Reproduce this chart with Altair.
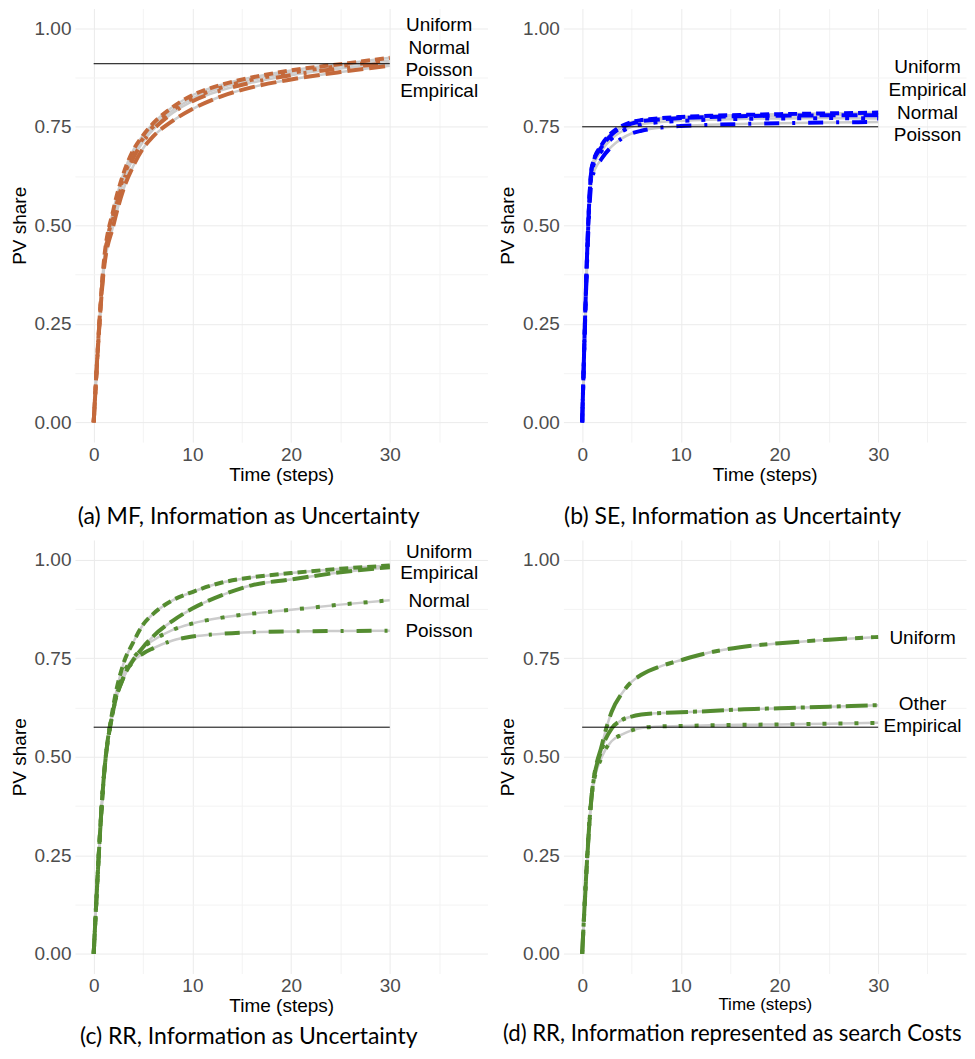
import altair as alt
import pandas as pd

# ---------------- data ----------------
time = [0, 1, 2, 3, 4, 5, 6, 8, 10, 13, 16, 20, 25, 30]

a_uniform   = [0, 0.40, 0.54, 0.63, 0.69, 0.728, 0.758, 0.800, 0.830, 0.857, 0.875, 0.893, 0.909, 0.925]
a_normal    = [0, 0.39, 0.53, 0.62, 0.68, 0.720, 0.750, 0.792, 0.822, 0.850, 0.869, 0.887, 0.904, 0.918]
a_poisson   = [0, 0.39, 0.52, 0.61, 0.67, 0.712, 0.742, 0.785, 0.815, 0.843, 0.862, 0.881, 0.898, 0.912]
a_empirical = [0, 0.38, 0.50, 0.59, 0.65, 0.695, 0.725, 0.765, 0.795, 0.828, 0.850, 0.870, 0.889, 0.905]

b_uniform   = [0, 0.65, 0.705, 0.735, 0.752, 0.762, 0.767, 0.772, 0.775, 0.778, 0.780, 0.782, 0.784, 0.786]
b_empirical = [0, 0.65, 0.700, 0.730, 0.748, 0.758, 0.764, 0.769, 0.772, 0.775, 0.777, 0.778, 0.779, 0.779]
b_normal    = [0, 0.64, 0.690, 0.720, 0.738, 0.750, 0.756, 0.762, 0.765, 0.768, 0.770, 0.771, 0.772, 0.771]
b_poisson   = [0, 0.62, 0.670, 0.700, 0.720, 0.733, 0.740, 0.748, 0.752, 0.755, 0.757, 0.759, 0.761, 0.762]

c_uniform   = [0, 0.44, 0.63, 0.735, 0.790, 0.835, 0.862, 0.897, 0.918, 0.942, 0.955, 0.966, 0.977, 0.985]
c_empirical = [0, 0.44, 0.62, 0.700, 0.745, 0.778, 0.805, 0.845, 0.876, 0.910, 0.935, 0.950, 0.968, 0.981]
c_normal    = [0, 0.44, 0.62, 0.710, 0.750, 0.777, 0.795, 0.822, 0.838, 0.853, 0.863, 0.873, 0.886, 0.897]
c_poisson   = [0, 0.44, 0.62, 0.700, 0.742, 0.762, 0.775, 0.795, 0.805, 0.812, 0.816, 0.818, 0.819, 0.820]

d_uniform   = [0, 0.41, 0.53, 0.615, 0.660, 0.690, 0.708, 0.730, 0.745, 0.765, 0.778, 0.788, 0.797, 0.804]
d_other     = [0, 0.41, 0.52, 0.572, 0.593, 0.602, 0.607, 0.611, 0.613, 0.616, 0.620, 0.623, 0.627, 0.631]
d_empirical = [0, 0.41, 0.50, 0.540, 0.556, 0.567, 0.573, 0.577, 0.578, 0.580, 0.581, 0.582, 0.584, 0.586]

hline_values = {"a": 0.91, "b": 0.75, "c": 0.575, "d": 0.575}

a_labels   = ["Uniform", "Normal", "Poisson", "Empirical"]
a_label_y  = [1.009, 0.951, 0.895, 0.842]
b_labels   = ["Uniform", "Empirical", "Normal", "Poisson"]
b_label_y  = [0.901, 0.844, 0.785, 0.728]
c_labels   = ["Uniform", "Empirical", "Normal", "Poisson"]
c_label_y  = [1.020, 0.965, 0.896, 0.820]
d_labels   = ["Uniform", "Other", "Empirical"]
d_label_y  = [0.802, 0.633, 0.579]
label_x    = {"a": 35, "b": 35, "c": 35, "d": 34.5}

captions = {
    "a": "(a) MF, Information as Uncertainty",
    "b": "(b) SE, Information as Uncertainty",
    "c": "(c) RR, Information as Uncertainty",
    "d": "(d) RR, Information represented as search Costs",
}

colors = {"a": "#c4693b", "b": "#0000ff", "c": "#548c30", "d": "#548c30"}

dash_patterns = {
    "Uniform": [9, 5],
    "Empirical": [16, 6],
    "Normal": [4, 12],
    "Poisson": [15, 13, 3, 13],
}
d_dash_patterns = {
    "Uniform": [24, 8, 8, 8],
    "Other": [22, 5, 4, 5],
    "Empirical": [4, 12],
}

FONT = "Liberation Sans"


def long_df(series):
    rows = []
    for name, vals in series.items():
        for t, v in zip(time, vals):
            rows.append({"t": t, "v": v, "series": name})
    return pd.DataFrame(rows)


def panel(key, series, labels, label_y, dashes, xmax, width, height, cap_offset,
          cap_size=23, xtitle_size=19):
    df = long_df(series)
    xscale = alt.Scale(domain=[-1.9, xmax], nice=False, zero=False)
    yscale = alt.Scale(domain=[-0.05, 1.05], nice=False, zero=False)

    xaxis = alt.Axis(
        values=[0, 5, 10, 15, 20, 25, 30, 35],
        labelExpr="datum.value % 10 === 0 ? datum.label : ''",
        labelOverlap=False,
        title="Time (steps)",
        titleFontSize=xtitle_size,
        ticks=False, domain=False,
        labelPadding=3, titlePadding=1,
        gridColor={"condition": {"test": "datum.value % 10 === 0", "value": "#ebebeb"}, "value": "#f3f3f3"},
    )
    yaxis = alt.Axis(
        values=[0, 0.125, 0.25, 0.375, 0.5, 0.625, 0.75, 0.875, 1.0],
        format=".2f",
        labelExpr="(datum.value * 8) % 2 === 0 ? datum.label : ''",
        labelOverlap=False,
        title="PV share",
        ticks=False, domain=False,
        labelPadding=4, titlePadding=5,
        gridColor={"condition": {"test": "(datum.value * 8) % 2 === 0", "value": "#ebebeb"}, "value": "#f3f3f3"},
    )

    x = alt.X("t:Q", scale=xscale, axis=xaxis)
    y = alt.Y("v:Q", scale=yscale, axis=yaxis)

    layers = [
        alt.Chart(df).mark_line(color="#cccccc", strokeWidth=2.5, interpolate="monotone").encode(
            x=x, y=y, detail="series:N"
        )
    ]
    for name in series.keys():
        sub = df[df["series"] == name]
        layers.append(
            alt.Chart(sub).mark_line(
                color=colors[key], strokeWidth=4, strokeCap="butt",
                interpolate="monotone", strokeDash=dashes[name],
            ).encode(x=alt.X("t:Q", scale=xscale), y=alt.Y("v:Q", scale=yscale))
        )
    hdf = pd.DataFrame({"x0": [0], "x1": [30], "h": [hline_values[key]]})
    layers.append(
        alt.Chart(hdf).mark_rule(color="black", strokeWidth=1).encode(
            x=alt.X("x0:Q", scale=xscale), x2="x1:Q", y=alt.Y("h:Q", scale=yscale)
        )
    )
    ldf = pd.DataFrame({"lx": [label_x[key]] * len(labels), "ly": label_y, "txt": labels})
    layers.append(
        alt.Chart(ldf).mark_text(
            font=FONT, fontSize=19, color="black", align="center", baseline="middle"
        ).encode(
            x=alt.X("lx:Q", scale=xscale), y=alt.Y("ly:Q", scale=yscale), text="txt:N"
        )
    )
    return alt.layer(*layers).properties(
        width=width, height=height,
        title=alt.TitleParams(
            text=captions[key], orient="bottom", font="Lato", fontSize=cap_size,
            fontWeight="normal", color="black", offset=cap_offset, frame="bounds", anchor="middle",
        ),
    )


pa = panel("a", {"Uniform": a_uniform, "Normal": a_normal, "Poisson": a_poisson, "Empirical": a_empirical},
           a_labels, a_label_y, dash_patterns, 39.9, 413, 434, 22)
pb = panel("b", {"Uniform": b_uniform, "Empirical": b_empirical, "Normal": b_normal, "Poisson": b_poisson},
           b_labels, b_label_y, dash_patterns, 38.9, 403, 434, 22)
pc = panel("c", {"Uniform": c_uniform, "Empirical": c_empirical, "Normal": c_normal, "Poisson": c_poisson},
           c_labels, c_label_y, dash_patterns, 39.9, 413, 434, 11)
pd_ = panel("d", {"Uniform": d_uniform, "Other": d_other, "Empirical": d_empirical},
            d_labels, d_label_y, d_dash_patterns, 38.9, 403, 434, 11, cap_size=22.2, xtitle_size=17)

row1 = alt.hconcat(pa, pb, spacing=11).resolve_scale(x="independent", y="independent")
row2 = alt.hconcat(pc, pd_, spacing=11).resolve_scale(x="independent", y="independent")

chart = alt.vconcat(row1, row2, spacing=11).resolve_scale(
    x="independent", y="independent"
).properties(
    padding={"left": 2, "top": 0, "right": 0, "bottom": 0}
).configure(
    font=FONT,
).configure_view(
    stroke=None
).configure_axis(
    labelFont=FONT, titleFont=FONT, labelFontSize=19, titleFontSize=19,
    labelColor="#4d4d4d", titleColor="black", titleFontWeight="normal",
)

chart.save("out.html", embed_options={"renderer": "svg", "actions": False})
